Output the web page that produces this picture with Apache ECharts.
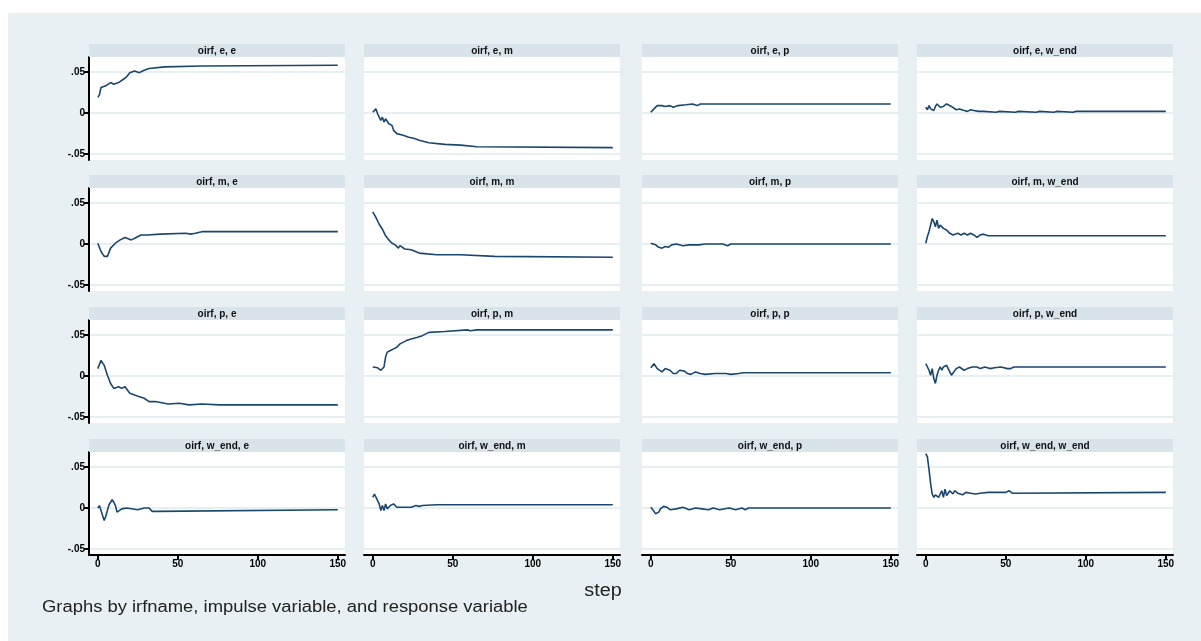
<!DOCTYPE html>
<html>
<head>
<meta charset="utf-8">
<title>oirf</title>
<script src="https://cdn.jsdelivr.net/npm/echarts@6/dist/echarts.min.js"></script>
<style>
html,body{margin:0;padding:0;background:#fff;}
#irfChart{width:1201px;height:641px;}
</style>
</head>
<body>
<div id="irfChart"></div>
<script>
// impulse / response names, panel order is impulse by row, response by column
var impulses = ['e', 'm', 'p', 'w_end'];
var responses = ['e', 'm', 'p', 'w_end'];
var xTicks = [0, 50, 100, 150];
var yTicks = [-0.05, 0, 0.05];

// oirf values, [step, value]
var e_e = [[0,.019],[1,.022],[2,.031],[5,.033],[8,.037],[10,.035],[13,.037],[16,.041],[18,.044],[20,.049],[23,.051],[26,.049],[29,.052],[32,.054],[42,.056],[43,.0565],[65,.057],[66,.058],[150,.058]];
var e_m = [[0,.001],[1,.003],[2,.005],[3,-.001],[4,.001],[5,-.009],[6,-.005],[7,-.011],[8,-.007],[10,-.013],[12,-.015],[13,-.021],[15,-.025],[19,-.027],[22,-.029],[26,-.031],[29,-.033],[35,-.036],[45,-.038],[55,-.039],[65,-.041],[150,-.042]];
var e_p = [[0,.001],[1,.003],[2,.005],[4,.009],[7,.009],[9,.008],[12,.009],[14,.007],[17,.009],[22,.010],[26,.011],[29,.009],[31,.011],[150,.011]];
var e_w = [[0,.007],[1,.004],[2,.009],[3,.005],[4,.007],[5,.003],[6,.008],[7,.011],[9,.007],[10,.005],[11,.008],[13,.011],[14,.013],[16,.008],[17,.006],[19,.004],[21,.005],[24,.003],[26,.002],[28,.004],[30,.003],[33,.002],[36,.002],[44,.001],[46,.002],[56,.001],[58,.002],[69,.001],[71,.002],[80,.001],[82,.002],[92,.001],[94,.002],[150,.002]];
var m_e = [[0,.001],[2,-.009],[4,-.015],[6,-.015],[8,-.005],[11,.001],[14,.005],[17,.008],[21,.005],[24,.008],[27,.011],[31,.011],[39,.012],[55,.013],[58,.012],[61,.013],[65,.015],[150,.015]];
var m_m = [[0,.039],[1,.038],[2,.032],[4,.024],[6,.018],[8,.010],[10,.005],[12,.001],[14,-.001],[16,-.005],[17,-.002],[18,-.004],[20,-.006],[24,-.007],[29,-.011],[34,-.012],[40,-.013],[55,-.013],[76,-.015],[150,-.016]];
var m_p = [[0,.001],[3,-.001],[5,-.004],[7,-.005],[9,-.003],[11,-.004],[13,-.001],[16,0],[20,-.002],[24,-.001],[30,-.001],[34,0],[45,0],[48,-.002],[50,0],[150,0]];
var m_w = [[0,.001],[1,.009],[2,.015],[4,.031],[5,.027],[6,.021],[7,.029],[8,.019],[9,.023],[10,.021],[11,.019],[12,.021],[13,.017],[15,.013],[17,.011],[20,.013],[22,.011],[24,.013],[26,.011],[28,.013],[30,.011],[32,.008],[34,.011],[36,.012],[39,.010],[150,.010]];
var p_e = [[0,.009],[2,.019],[4,.013],[6,.001],[8,-.009],[10,-.015],[13,-.013],[15,-.015],[17,-.013],[20,-.021],[23,-.023],[26,-.025],[29,-.027],[32,-.031],[36,-.031],[44,-.034],[51,-.033],[57,-.035],[65,-.034],[76,-.035],[150,-.035]];
var p_m = [[0,.011],[3,.010],[5,.007],[7,.011],[8,.023],[9,.029],[11,.031],[13,.033],[15,.035],[17,.039],[21,.043],[24,.045],[28,.047],[31,.049],[35,.053],[45,.054],[59,.056],[61,.055],[65,.056],[150,.056]];
var p_p = [[0,.010],[2,.015],[4,.009],[5,.007],[7,.005],[9,.009],[12,.007],[14,.003],[16,.003],[18,.007],[21,.006],[23,.003],[25,.002],[28,.005],[31,.003],[34,.002],[40,.003],[47,.003],[50,.002],[55,.003],[58,.004],[150,.004]];
var p_w = [[0,.015],[1,.013],[2,.007],[3,.001],[4,.009],[5,-.003],[6,-.009],[7,.001],[8,.007],[9,.011],[10,.007],[11,.011],[12,.009],[13,.013],[15,.005],[16,.001],[17,.003],[19,.009],[21,.011],[24,.007],[26,.009],[29,.011],[32,.011],[34,.009],[37,.011],[40,.009],[43,.010],[47,.011],[51,.009],[53,.009],[55,.011],[150,.011]];
var w_e = [[0,0],[1,.003],[2,-.003],[4,-.015],[5,-.010],[6,-.003],[7,.004],[9,.010],[10,.007],[11,.003],[12,-.005],[15,-.001],[18,0],[25,-.002],[29,0],[32,0],[34,-.004],[37,-.004],[38,-.002],[150,-.002]];
var w_m = [[0,.013],[1,.017],[3,.009],[4,.005],[5,-.003],[6,.003],[7,-.003],[8,.005],[9,-.001],[10,-.003],[11,.003],[13,.005],[15,.001],[20,.001],[24,.001],[27,.003],[29,.002],[31,.003],[40,.004],[150,.004]];
var w_p = [[0,.001],[2,-.004],[3,-.007],[5,-.005],[6,-.001],[8,.002],[10,.001],[12,-.002],[16,-.001],[17,-.002],[20,.001],[24,-.002],[28,0],[29,-.002],[32,-.001],[36,-.002],[39,0],[43,-.002],[49,0],[50,-.002],[53,-.002],[57,0],[59,-.002],[61,0],[150,0]];
var w_w = [[0,.066],[1,.062],[2,.047],[3,.030],[4,.017],[5,.013],[6,.016],[7,.017],[8,.013],[9,.017],[10,.021],[11,.013],[12,.023],[13,.015],[14,.015],[15,.021],[17,.017],[18,.021],[20,.018],[23,.016],[25,.019],[28,.018],[31,.017],[34,.018],[39,.019],[44,.019],[50,.019],[52,.021],[54,.018],[150,.019]];

var panelData = [e_e, e_m, e_p, e_w, m_e, m_m, m_p, m_w, p_e, p_m, p_p, p_w, w_e, w_m, w_p, w_w];

window.onload = function(){
	buildIrfChart();
};

function buildIrfChart(){
	var myChart = echarts.init(document.getElementById('irfChart'));
	var colLeft = [89, 364, 642, 917];
	var rowTop = [44, 175, 307, 439];
	var panelW = 256, headH = 13, plotH = 103;
	var lineColor = '#1a476f';

	var grids = [], xAxes = [], yAxes = [], series = [];
	var graphics = [{
		type: 'rect', z: -10,
		shape: {x: 8, y: 13, width: 1193, height: 628},
		style: {fill: '#e8f0f3'}
	}];

	for (var i = 0; i < 16; i++) {
		var row = Math.floor(i / 4), col = i % 4;
		var bottomRow = row == 3, leftCol = col == 0;
		grids.push({
			left: colLeft[col], top: rowTop[row] + headH,
			width: panelW, height: plotH,
			show: true, backgroundColor: '#fff', borderWidth: 0
		});
		xAxes.push({
			type: 'value', gridIndex: i, min: -5.5, max: 154.5,
			axisLine: {show: bottomRow, onZero: false, lineStyle: {color: '#000', width: 2}},
			axisTick: {show: bottomRow, length: 5, customValues: xTicks, lineStyle: {color: '#000', width: 2}},
			axisLabel: {show: bottomRow, customValues: xTicks, margin: 4, fontSize: 10, fontWeight: 'bold', color: '#000', fontFamily: 'Liberation Sans'},
			splitLine: {show: false}
		});
		yAxes.push({
			type: 'value', gridIndex: i, min: -0.057, max: 0.068,
			axisLine: {show: leftCol, onZero: false, lineStyle: {color: '#000', width: 2}},
			axisTick: {show: leftCol, length: 5, customValues: yTicks, lineStyle: {color: '#000', width: 2}},
			axisLabel: {
				show: leftCol, customValues: yTicks, margin: 4, fontSize: 10, fontWeight: 'bold', color: '#000', fontFamily: 'Liberation Sans',
				formatter: function(v){ return v == 0 ? '0' : String(+v.toFixed(2)).replace('0.', '.'); }
			},
			splitLine: {show: true, lineStyle: {color: '#e6eff1', width: 2}}
		});
		series.push({
			type: 'line', xAxisIndex: i, yAxisIndex: i,
			data: panelData[i], showSymbol: false, symbol: 'none',
			lineStyle: {color: lineColor, width: 1.6}, silent: true
		});
		// header strip with the panel title
		graphics.push({
			type: 'rect', z: 1,
			shape: {x: colLeft[col], y: rowTop[row], width: panelW, height: headH},
			style: {fill: '#d8e4ea'}
		});
		graphics.push({
			type: 'text', z: 2,
			x: colLeft[col] + panelW / 2, y: rowTop[row] + headH / 2 + 0.5,
			style: {
				text: 'oirf, ' + impulses[row] + ', ' + responses[col],
				fill: '#111', font: 'bold 10px "Liberation Sans"',
				align: 'center', verticalAlign: 'middle'
			}
		});
	}

	graphics.push({
		type: 'text', z: 2, x: 603, y: 591, scaleX: 1.1,
		style: {text: 'step', fill: '#222', font: '18px "Liberation Sans"', align: 'center', verticalAlign: 'middle'}
	});
	graphics.push({
		type: 'text', z: 2, x: 42, y: 608, scaleX: 1.15,
		style: {text: 'Graphs by irfname, impulse variable, and response variable', fill: '#222', font: '16px "Liberation Sans"', align: 'left', verticalAlign: 'middle'}
	});

	var option = {
		backgroundColor: '#fff',
		animation: false,
		grid: grids,
		xAxis: xAxes,
		yAxis: yAxes,
		series: series,
		graphic: {elements: graphics}
	};
	myChart.setOption(option);
}
</script>
</body>
</html>
